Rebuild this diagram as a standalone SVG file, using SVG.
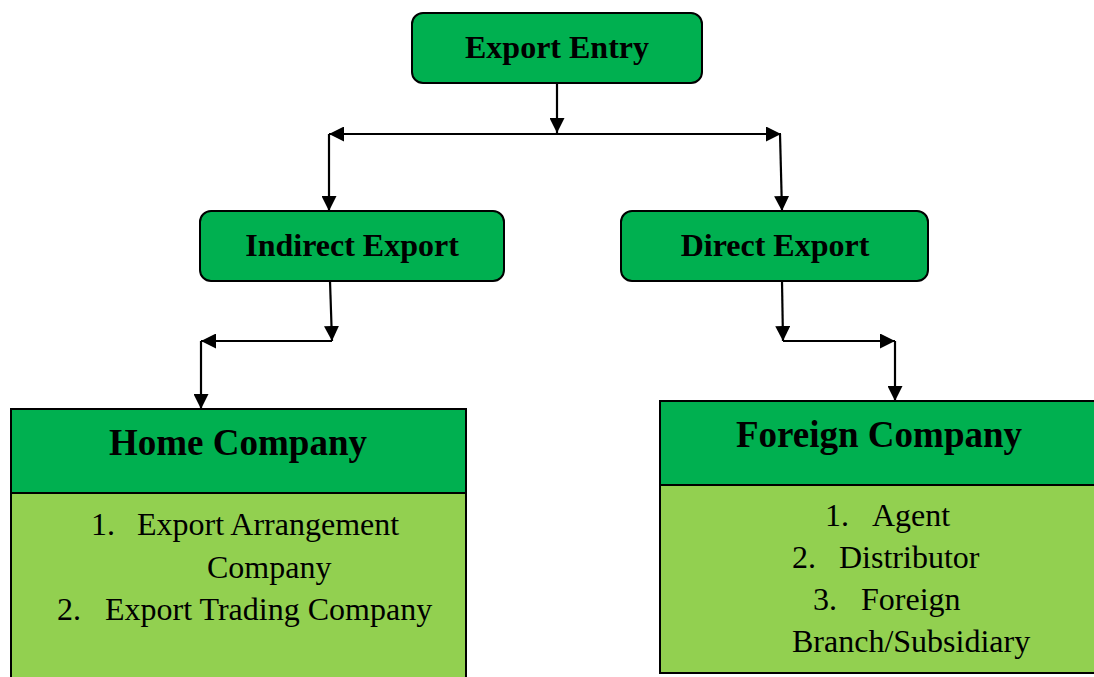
<svg xmlns="http://www.w3.org/2000/svg" width="1094" height="677" viewBox="0 0 1094 677">
<defs>
<marker id="arr" viewBox="0 0 15 15" markerWidth="15" markerHeight="15" refX="15" refY="7.5" orient="auto-start-reverse" markerUnits="userSpaceOnUse">
<path d="M0,0 L15,7.5 L0,15 z" fill="#000"/>
</marker>
<style>
.node{fill:#00B050;stroke:#000;stroke-width:2}
.hdr{fill:#00B050;stroke:#000;stroke-width:2}
.body{fill:#92D050;stroke:#000;stroke-width:2}
.t{font-family:"Liberation Serif","Times New Roman",serif;font-weight:bold;font-size:32px;fill:#000;text-anchor:middle}
.h{font-family:"Liberation Serif","Times New Roman",serif;font-weight:bold;font-size:37px;fill:#000;text-anchor:middle}
.b{font-family:"Liberation Serif","Times New Roman",serif;font-size:32px;fill:#000}
.c{fill:none;stroke:#000;stroke-width:2.2}
</style>
</defs>
<rect width="1094" height="677" fill="#fff"/>
<g id="export-entry">
<rect class="node" x="412" y="13" width="290" height="70" rx="11"/>
<text class="t" x="557" y="58">Export Entry</text>
</g>
<g id="indirect-export">
<rect class="node" x="200" y="211" width="304" height="70" rx="11"/>
<text class="t" x="352" y="256">Indirect Export</text>
</g>
<g id="direct-export">
<rect class="node" x="621" y="211" width="307" height="70" rx="11"/>
<text class="t" x="775" y="256">Direct Export</text>
</g>
<g id="home-company">
<rect class="body" x="11" y="493" width="455" height="200"/>
<rect class="hdr" x="11" y="409" width="455" height="84"/>
<text class="h" x="238" y="455">Home Company</text>
<text class="b" x="91" y="535">1.</text>
<text class="b" x="137" y="535">Export Arrangement</text>
<text class="b" x="207" y="578">Company</text>
<text class="b" x="57" y="620">2.</text>
<text class="b" x="105" y="620">Export Trading Company</text>
</g>
<g id="foreign-company">
<rect class="body" x="660" y="485" width="450" height="188"/>
<rect class="hdr" x="660" y="401" width="450" height="84"/>
<text class="h" x="879" y="447">Foreign Company</text>
<text class="b" x="825" y="526">1.</text>
<text class="b" x="872" y="526">Agent</text>
<text class="b" x="792" y="568">2.</text>
<text class="b" x="839" y="568">Distributor</text>
<text class="b" x="813" y="610">3.</text>
<text class="b" x="861" y="610">Foreign</text>
<text class="b" x="792" y="652">Branch/Subsidiary</text>
</g>
<g id="connectors">
<path class="c" d="M557,83 L557,133" marker-end="url(#arr)"/>
<path class="c" d="M329,134 L781,134" marker-start="url(#arr)" marker-end="url(#arr)"/>
<path class="c" d="M329,134 L329,211" marker-end="url(#arr)"/>
<path class="c" d="M780,134 L782,211" marker-end="url(#arr)"/>
<path class="c" d="M330,281 L332,341" marker-end="url(#arr)"/>
<path class="c" d="M332,341 L201,341" marker-end="url(#arr)"/>
<path class="c" d="M201,341 L201,409" marker-end="url(#arr)"/>
<path class="c" d="M782,281 L783,341" marker-end="url(#arr)"/>
<path class="c" d="M783,341 L895,341" marker-end="url(#arr)"/>
<path class="c" d="M895,341 L895,401" marker-end="url(#arr)"/>
</g>
</svg>
